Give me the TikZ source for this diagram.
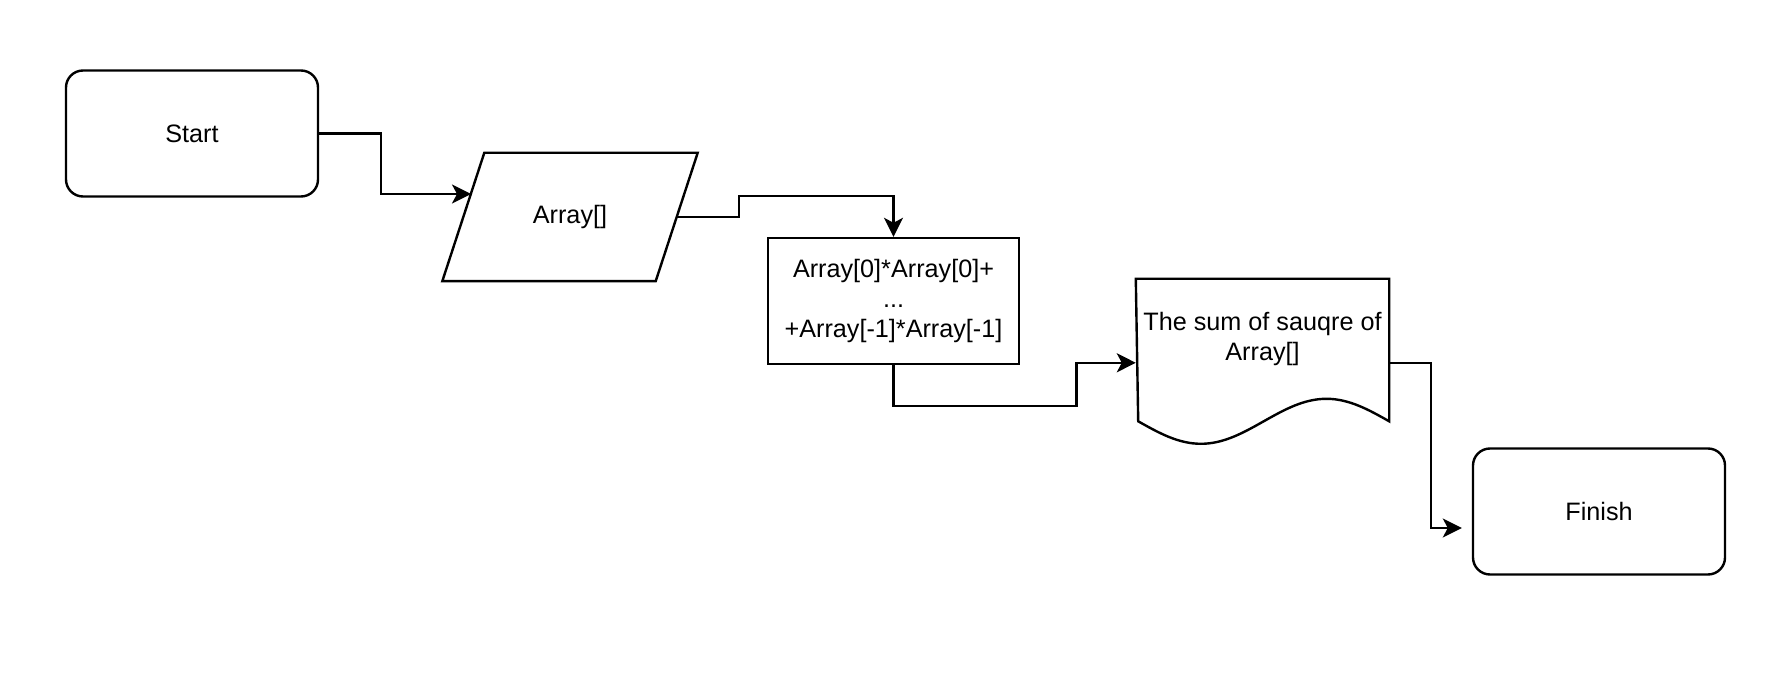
\documentclass[tikz,border=0pt]{standalone}
\usepackage{fontspec}
\setmainfont{Liberation Sans}
\usetikzlibrary{shapes.geometric, arrows.meta, positioning, calc}

\begin{document}
\begin{tikzpicture}[
        x=1pt, y=-1pt,
        font=\fontsize{25.2}{30.2}\selectfont,
        line width=2.4pt,
        terminal/.style={rectangle, draw, rounded corners=17pt, minimum width=252pt, minimum height=126pt, inner sep=0pt, align=center},
        iobox/.style={rectangle, minimum width=211pt, minimum height=126pt, inner sep=0pt, align=center},
        process/.style={rectangle, draw, minimum width=251pt, minimum height=126pt, inner sep=0pt, align=center},
        docbox/.style={rectangle, minimum width=251pt, minimum height=118pt, inner sep=0pt, align=center},
        flow/.style={-{Stealth[length=19pt, width=19pt, inset=5pt]}, line join=miter}
    ]
        \useasboundingbox (0,0) rectangle (1786,692);

        \node[terminal] (start) at (192,133.5) {Start};
        \node[iobox] (arr) at (570,217) {Array[]};
        \node[process] (calc) at (893.5,301) {Array[0]*Array[0]+\\...\\+Array[-1]*Array[-1]};
        \node[docbox] (doc) at (1262.5,339) {The sum of sauqre of\\Array[]};
        \node[terminal] (finish) at (1599,511.5) {Finish};

        % input parallelogram
        \draw[line join=miter] ($(arr.south west)+(-21,0)$) -- ($(arr.south east)+(-21,0)$)
            -- ($(arr.north east)+(21,0)$) -- ($(arr.north west)+(21,0)$) -- cycle;
        \coordinate (arrin) at ($(arr.west)+(7.7,-23)$);

        % document outline with wavy bottom
        \draw (doc.north west) -- (doc.north east) -- ++(0,142.5)
            sin ++(-62.75,-22.5) cos ++(-62.75,22.5)
            sin ++(-62.75,22.5) cos ++(-62.75,-22.5) -- cycle;
        \coordinate (docin) at ($(doc.north west)+(0,84)$);
        \coordinate (docout) at ($(doc.north east)+(0,84)$);

        \draw[flow] (start.east) -- ++(62,0) |- (arrin);
        \draw[flow] (arr.east) -- ++(62,0) -- ++(0,-21) -| (calc.north);
        \draw[flow] (calc.south) -- ++(0,41) -- ++(183,0) |- (docin);
        \draw[flow, shorten >=10pt] (docout) -- ++(42,0) |- ([yshift=-16.5pt]finish.west);
    \end{tikzpicture}
\end{document}
